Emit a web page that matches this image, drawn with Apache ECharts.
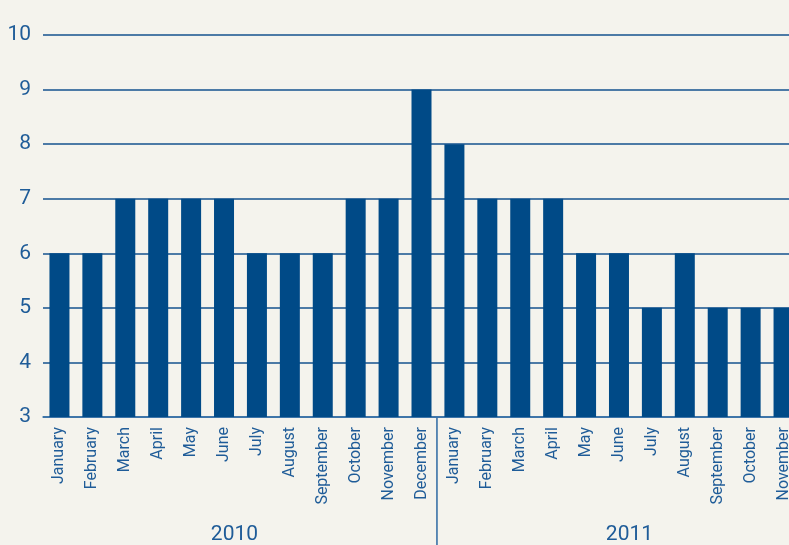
<!DOCTYPE html>
<html>
<head>
<meta charset="utf-8">
<script src="https://cdn.jsdelivr.net/npm/echarts@6/dist/echarts.min.js"></script>
<style>
    html, body { margin: 0; padding: 0; background: #f4f3ed; overflow: hidden; }
    #chart { width: 789px; height: 545px; }
</style>
</head>
<body>
<div id="chart"></div>
<script>
const months = ['January', 'February', 'March', 'April', 'May', 'June', 'July', 'August',
    'September', 'October', 'November', 'December',
    'January', 'February', 'March', 'April', 'May', 'June', 'July', 'August',
    'September', 'October', 'November'];
const values = [6, 6, 7, 7, 7, 7, 6, 6, 6, 7, 7, 9,
    8, 7, 7, 7, 6, 6, 5, 6, 5, 5, 5];
const years = ['2010', '2011'];
const yearStart = [0, 12];

const textColor = '#1f5c98';
const fontName = 'Roboto, "DejaVu Sans", sans-serif';

const chart = echarts.init(document.getElementById('chart'));

chart.setOption({
    backgroundColor: '#f4f3ed',
    animation: false,
    grid: {
        left: 43,
        top: 35,
        width: 757,
        bottom: 128,
        outerBoundsMode: 'none'
    },
    xAxis: {
        type: 'category',
        data: months,
        boundaryGap: true,
        axisLine: { lineStyle: { color: '#3a74aa', width: 1.5 } },
        axisTick: { show: false },
        axisLabel: {
            rotate: 90,
            interval: 0,
            margin: 10,
            color: textColor,
            fontSize: 16,
            fontFamily: fontName
        }
    },
    yAxis: {
        type: 'value',
        min: 3,
        max: 10,
        interval: 1,
        axisLine: { show: false },
        axisTick: { show: false },
        axisLabel: {
            margin: 12,
            color: textColor,
            fontSize: 21,
            fontFamily: fontName
        },
        splitLine: { lineStyle: { color: '#15528e', width: 1.5 } }
    },
    series: [{
        type: 'bar',
        data: values,
        barWidth: 20,
        itemStyle: { color: '#004a87' }
    }]
});

// year labels and separator under the month labels
function px(i) {
    return chart.convertToPixel({ xAxisIndex: 0 }, i);
}
const step = px(1) - px(0);
const baseY = chart.convertToPixel({ yAxisIndex: 0 }, 3);
const graphics = [];
years.forEach(function (y, k) {
    const c = px(yearStart[k]) + step * 5.5 - 6;
    graphics.push({
        type: 'text',
        x: c,
        y: 535,
        style: {
            text: y,
            fill: textColor,
            fontSize: 21,
            fontFamily: fontName,
            align: 'center',
            verticalAlign: 'middle'
        }
    });
});
const sepX = (px(11) + px(12)) / 2 - 1;
graphics.push({
    type: 'line',
    shape: { x1: sepX, y1: baseY, x2: sepX, y2: 545 },
    style: { stroke: '#2c68a2', lineWidth: 1.5 }
});
chart.setOption({ graphic: graphics });

window.addEventListener('resize', function () {
    chart.resize();
});
</script>
</body>
</html>
